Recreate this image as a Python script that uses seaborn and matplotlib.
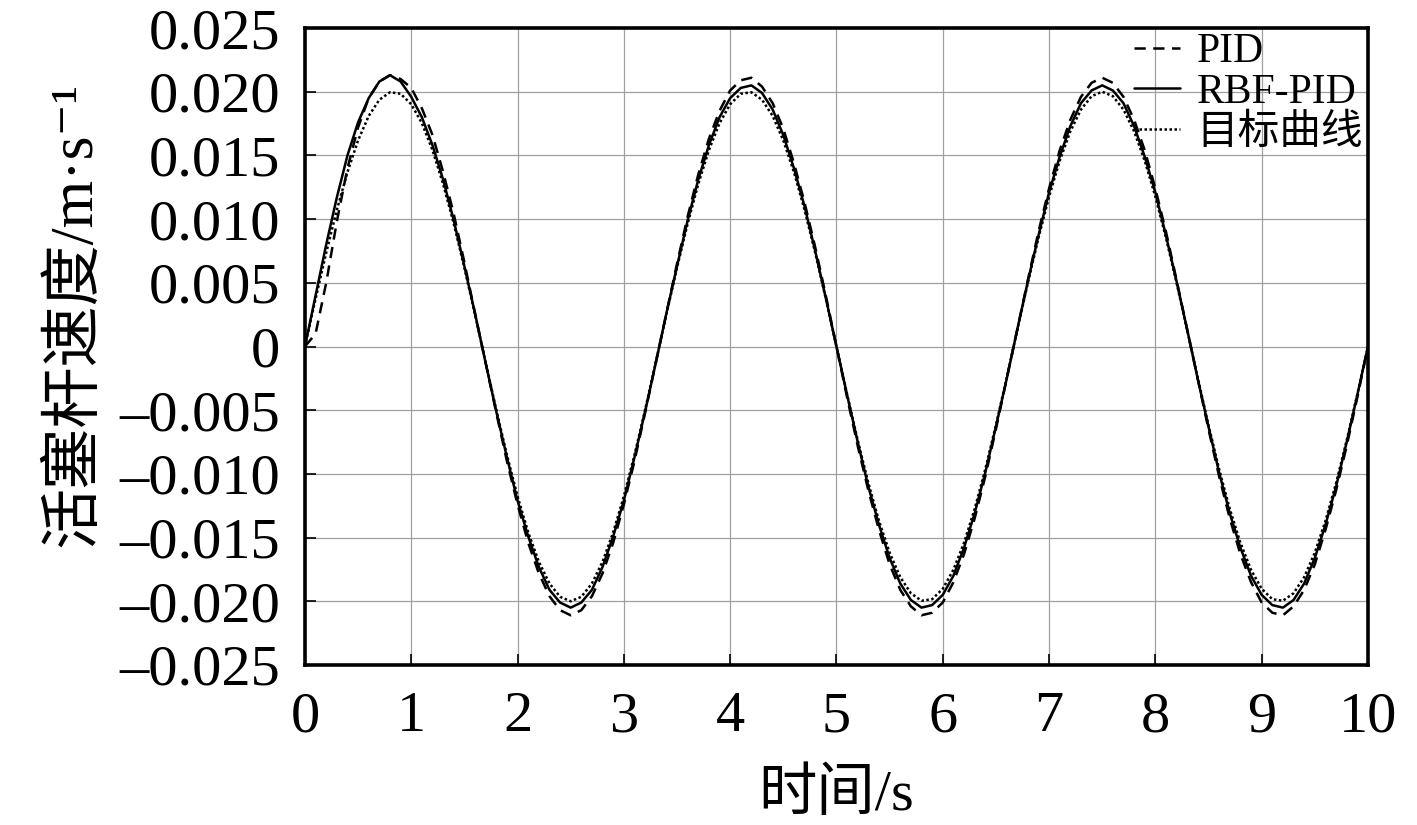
import numpy as np
import pandas as pd
import matplotlib
matplotlib.use("Agg")
import matplotlib.pyplot as plt
import seaborn as sns
from matplotlib.ticker import FuncFormatter

# time axis, 0.1 s steps
t = [round(0.1 * i, 1) for i in range(101)]

pid = [0.0, 0.0010, 0.0050, 0.0098, 0.0140, 0.0172, 0.0195, 0.0208, 0.0213, 0.0210,
       0.0203, 0.0187, 0.0166, 0.0137, 0.0104, 0.0066, 0.0026, -0.0013, -0.0052, -0.0090,
       -0.0124, -0.0154, -0.0178, -0.0196, -0.0207, -0.0211, -0.0207, -0.0196, -0.0178, -0.0154,
       -0.0124, -0.0090, -0.0052, -0.0013, 0.0026, 0.0065, 0.0102, 0.0135, 0.0163, 0.0185,
       0.0201, 0.0209, 0.0211, 0.0204, 0.0191, 0.0171, 0.0144, 0.0113, 0.0078, 0.0040,
       0.0, -0.0040, -0.0078, -0.0113, -0.0144, -0.0171, -0.0191, -0.0204, -0.0211, -0.0209,
       -0.0201, -0.0185, -0.0163, -0.0135, -0.0102, -0.0065, -0.0026, 0.0013, 0.0052, 0.0090,
       0.0124, 0.0154, 0.0178, 0.0196, 0.0207, 0.0211, 0.0207, 0.0196, 0.0178, 0.0154,
       0.0124, 0.0090, 0.0052, 0.0013, -0.0026, -0.0065, -0.0102, -0.0135, -0.0163, -0.0185,
       -0.0201, -0.0209, -0.0211, -0.0204, -0.0191, -0.0171, -0.0144, -0.0113, -0.0078, -0.0040,
       0.0]

rbf_pid = [0.0, 0.0040, 0.0080, 0.0117, 0.0150, 0.0176, 0.0195, 0.0208, 0.0213, 0.0208,
           0.0196, 0.0180, 0.0158, 0.0131, 0.0099, 0.0063, 0.0026, -0.0013, -0.0051, -0.0087,
           -0.0121, -0.0149, -0.0173, -0.0191, -0.0201, -0.0205, -0.0201, -0.0191, -0.0173, -0.0149,
           -0.0121, -0.0087, -0.0051, -0.0013, 0.0026, 0.0063, 0.0099, 0.0131, 0.0158, 0.0180,
           0.0195, 0.0203, 0.0205, 0.0199, 0.0186, 0.0166, 0.0140, 0.0110, 0.0075, 0.0038,
           0.0, -0.0038, -0.0075, -0.0110, -0.0140, -0.0166, -0.0186, -0.0199, -0.0205, -0.0203,
           -0.0195, -0.0180, -0.0158, -0.0131, -0.0099, -0.0063, -0.0026, 0.0013, 0.0051, 0.0087,
           0.0121, 0.0149, 0.0173, 0.0191, 0.0201, 0.0205, 0.0201, 0.0191, 0.0173, 0.0149,
           0.0121, 0.0087, 0.0051, 0.0013, -0.0026, -0.0063, -0.0099, -0.0131, -0.0158, -0.0180,
           -0.0195, -0.0203, -0.0205, -0.0199, -0.0186, -0.0166, -0.0140, -0.0110, -0.0075, -0.0038,
           0.0]

target = [0.0, 0.00375, 0.00736, 0.01072, 0.01369, 0.01618, 0.01810, 0.01937, 0.01996, 0.01984,
          0.01902, 0.01753, 0.01541, 0.01275, 0.00964, 0.00618, 0.00251, -0.00126, -0.00497, -0.00852,
          -0.01176, -0.01458, -0.01689, -0.01860, -0.01965, -0.02000, -0.01965, -0.01860, -0.01689, -0.01458,
          -0.01176, -0.00852, -0.00497, -0.00126, 0.00251, 0.00618, 0.00964, 0.01275, 0.01541, 0.01753,
          0.01902, 0.01984, 0.01996, 0.01937, 0.01810, 0.01618, 0.01369, 0.01072, 0.00736, 0.00375,
          0.0, -0.00375, -0.00736, -0.01072, -0.01369, -0.01618, -0.01810, -0.01937, -0.01996, -0.01984,
          -0.01902, -0.01753, -0.01541, -0.01275, -0.00964, -0.00618, -0.00251, 0.00126, 0.00497, 0.00852,
          0.01176, 0.01458, 0.01689, 0.01860, 0.01965, 0.02000, 0.01965, 0.01860, 0.01689, 0.01458,
          0.01176, 0.00852, 0.00497, 0.00126, -0.00251, -0.00618, -0.00964, -0.01275, -0.01541, -0.01753,
          -0.01902, -0.01984, -0.01996, -0.01937, -0.01810, -0.01618, -0.01369, -0.01072, -0.00736, -0.00375,
          0.0]

labels = ["PID", "RBF-PID", "目标曲线"]
x_ticks = list(range(0, 11))
y_ticks = [-0.025, -0.020, -0.015, -0.010, -0.005, 0, 0.005, 0.010, 0.015, 0.020, 0.025]

df = pd.DataFrame({
    "t": t * 3,
    "v": pid + rbf_pid + target,
    "series": [labels[0]] * len(t) + [labels[1]] * len(t) + [labels[2]] * len(t),
})

sns.set_theme(style="ticks")
plt.rcParams["font.family"] = ["Liberation Serif", "DejaVu Serif", "Noto Sans CJK SC"]
plt.rcParams["text.color"] = "black"
plt.rcParams["axes.labelcolor"] = "black"

fig = plt.figure(figsize=(14.17, 8.25), dpi=100)
ax = fig.add_axes([0.2152, 0.194, 0.7502, 0.772])

sns.lineplot(data=df, x="t", y="v", style="series", style_order=labels,
             dashes={"PID": (4.5, 3), "RBF-PID": "", "目标曲线": (1, 1)},
             color="black", linewidth=1.8, ax=ax)

ax.set_xlim(0, 10)
ax.set_ylim(-0.025, 0.025)
ax.set_xticks(x_ticks)
ax.set_yticks(y_ticks)


def fmt_y(v, pos):
    if abs(v) < 1e-12:
        return "0"
    s = f"{abs(v):.3f}"
    return ("\u2013" + s) if v < 0 else s


ax.yaxis.set_major_formatter(FuncFormatter(fmt_y))
ax.tick_params(direction="in", length=8, width=1.2, labelsize=42, colors="black")
ax.tick_params(axis="y", pad=18)
ax.tick_params(axis="x", pad=19)
ax.grid(True, color="#a0a0a0", linewidth=0.9)
for sp in ax.spines.values():
    sp.set_linewidth(2.6)
    sp.set_color("black")

ax.set_xlabel("时间/s", fontsize=42, labelpad=18)
ax.set_ylabel("活塞杆速度/m·s⁻¹", fontsize=44)
ax.yaxis.set_label_coords(-0.19, 0.55)

leg = ax.legend(loc="upper right", bbox_to_anchor=(1.015, 1.025), frameon=False,
                fontsize=30, handlelength=1.1, handletextpad=0.4, labelspacing=0.05,
                borderaxespad=0.1)
for h in leg.get_lines():
    h.set_linewidth(1.8)

fig.savefig("out.png", dpi=100, facecolor="white")
